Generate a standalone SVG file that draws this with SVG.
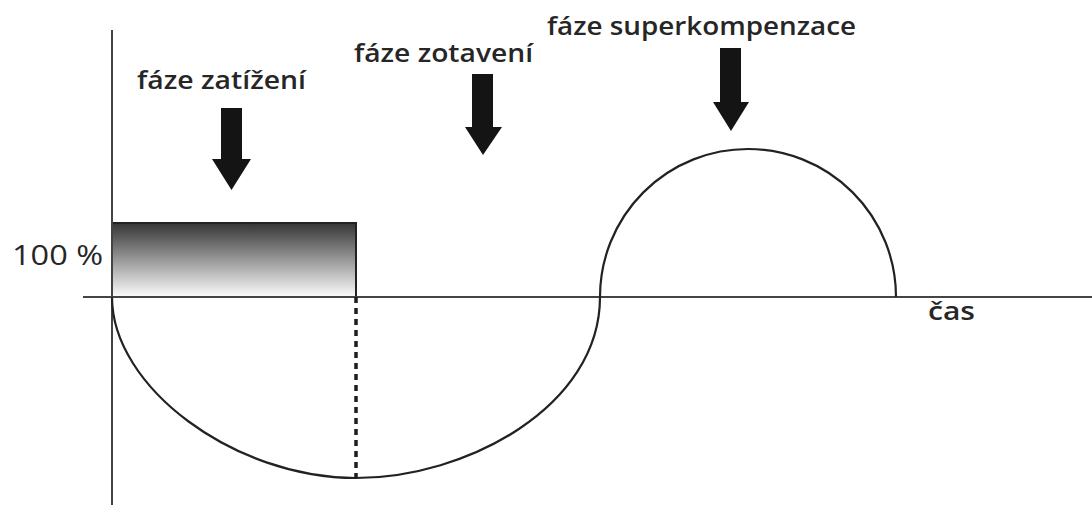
<svg xmlns="http://www.w3.org/2000/svg" width="1092" height="507" viewBox="0 0 1092 507">
  <style>
    .axis { stroke: #444; stroke-width: 2; fill: none; }
    .curve { stroke: #222; stroke-width: 2.2; fill: none; }
    .dash { stroke: #1e1e1e; stroke-width: 3.5; stroke-dasharray: 6 5; fill: none; }
    .arrow { fill: #141414; }
    .lbl { font-family: "Open Sans", "Liberation Sans", Arial, sans-serif; font-size: 26px; font-weight: 600; fill: #262626; }
    .pct { font-family: "Open Sans", "Liberation Sans", Arial, sans-serif; font-size: 28px; font-weight: 500; fill: #262626; }
  </style>
  <defs>
    <linearGradient id="load" x1="0" y1="0" x2="0" y2="1">
      <stop offset="0" stop-color="#353535"/>
      <stop offset="1" stop-color="#fcfcfc"/>
    </linearGradient>
  </defs>
  <rect width="1092" height="507" fill="#ffffff"/>

  <g id="load-block">
    <rect x="112" y="223" width="244" height="74" fill="url(#load)" stroke="#222" stroke-width="2"/>
  </g>

  <g id="axes">
    <line class="axis" x1="112" y1="30" x2="112" y2="505"/>
    <line class="axis" x1="83" y1="297" x2="1092" y2="297"/>
  </g>

  <g id="connectors">
    <path class="curve" d="M112,297 C112,387 234,478 356,478"/>
    <path class="curve" d="M356,478 C466,478 600,407 600,297"/>
    <path class="curve" d="M600,297 A148,148 0 0 1 896,297"/>
    <line class="dash" x1="356" y1="297" x2="356" y2="478"/>
  </g>

  <g id="arrow-load">
    <polygon class="arrow" points="221,108 242,108 242,159 251,159 231.5,190 212,159 221,159"/>
  </g>
  <g id="arrow-recovery">
    <polygon class="arrow" points="472,74 493,74 493,127 502,127 483,155 465,127 472,127"/>
  </g>
  <g id="arrow-super">
    <polygon class="arrow" points="720,48 741,48 741,102 749,102 731,131 713,102 720,102"/>
  </g>

  <g id="label-load">
    <text class="lbl" x="137" y="89" textLength="169" lengthAdjust="spacingAndGlyphs">fáze zatížení</text>
  </g>
  <g id="label-recovery">
    <text class="lbl" x="354" y="62" textLength="179" lengthAdjust="spacingAndGlyphs">fáze zotavení</text>
  </g>
  <g id="label-super">
    <text class="lbl" x="547" y="35" textLength="309" lengthAdjust="spacingAndGlyphs">fáze superkompenzace</text>
  </g>
  <g id="label-100">
    <text class="pct" x="12" y="265" textLength="91" lengthAdjust="spacingAndGlyphs">100 %</text>
  </g>
  <g id="label-time">
    <text class="lbl" x="928" y="320" textLength="47" lengthAdjust="spacingAndGlyphs">čas</text>
  </g>
</svg>
